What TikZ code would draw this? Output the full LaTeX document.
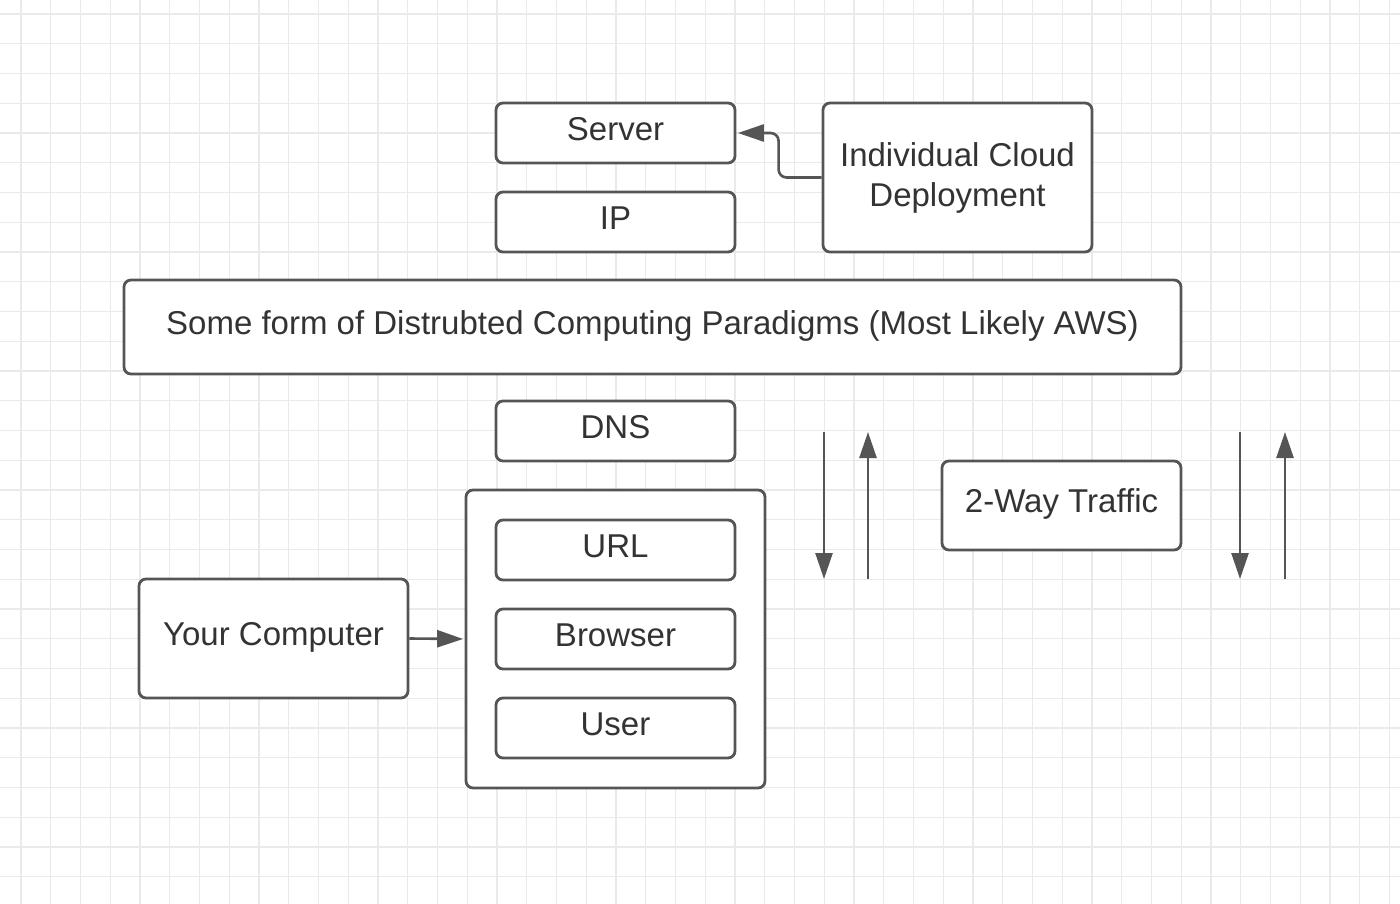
\documentclass[tikz,border=0pt]{standalone}
\usepackage{fontspec}
\setmainfont{Liberation Sans}
\usetikzlibrary{arrows.meta,calc}
\definecolor{edgegray}{HTML}{555555}
\definecolor{txtgray}{HTML}{333333}
\definecolor{gridgray}{HTML}{EAEAEA}
\tikzset{
  box/.style={draw=edgegray, line width=2.8pt, rounded corners=7pt, fill=white,
    inner sep=0pt, text=txtgray, font=\fontsize{33}{40}\selectfont,
    text height=23.6pt, text depth=9pt},
  smallbox/.style={box, minimum width=239pt, minimum height=60pt},
  arr/.style={draw=edgegray, line width=2.6pt, -{Triangle[length=26pt,width=17pt]}}
}
\begin{document}
\begin{tikzpicture}[x=1pt,y=-1pt]
\useasboundingbox (0,0) rectangle (1400,904);
\fill[white] (0,0) rectangle (1400,904);
% grid
\foreach \k in {0,...,46} {
  \draw[gridgray, line width=1.3pt] ({21+29.75*\k},0) -- ({21+29.75*\k},904);
}
\foreach \k in {0,...,30} {
  \draw[gridgray, line width=1.3pt] (0,{14+29.75*\k}) -- (1400,{14+29.75*\k});
}
% nodes
\node[smallbox] (server) at (615.5,133) {Server};
\node[smallbox] (ip) at (615.5,222) {IP};
\node[box, minimum width=269pt, minimum height=149pt, align=center,
      text height=, text depth=] (cloud) at (957.5,177.5) {Individual Cloud\\Deployment};
\node[box, minimum width=1057pt, minimum height=94pt] (dist) at (652.5,327)
  {Some form of Distrubted Computing Paradigms (Most Likely AWS)};
\node[smallbox] (dns) at (615.5,431) {DNS};
\node[box, minimum width=299pt, minimum height=298pt] (cont) at (615.5,639) {};
\node[smallbox] (url) at (615.5,550) {URL};
\node[smallbox] (browser) at (615.5,639) {Browser};
\node[smallbox] (user) at (615.5,728) {User};
\node[box, minimum width=269pt, minimum height=119pt] (comp) at (273.5,638.5) {Your Computer};
\node[box, minimum width=239pt, minimum height=89pt] (traffic) at (1061.5,505.5) {2-Way Traffic};
% arrow end coordinates
\coordinate (d1s) at (824,432); \coordinate (d1e) at (824,579);
\coordinate (u1s) at (868,579); \coordinate (u1e) at (868,432);
\coordinate (d2s) at (1240,432); \coordinate (d2e) at (1240,579);
\coordinate (u2s) at (1285,579); \coordinate (u2e) at (1285,432);
% connectors
\draw[arr, shorten >=1.5pt] (comp.east) -- (cont.west);
\draw[arr, rounded corners=8pt, shorten >=1.5pt] (cloud.west) -- ++(-43,0) |- (server.east);
\draw[arr] (d1s) -- (d1e);
\draw[arr] (u1s) -- (u1e);
\draw[arr] (d2s) -- (d2e);
\draw[arr] (u2s) -- (u2e);
\end{tikzpicture}
\end{document}
